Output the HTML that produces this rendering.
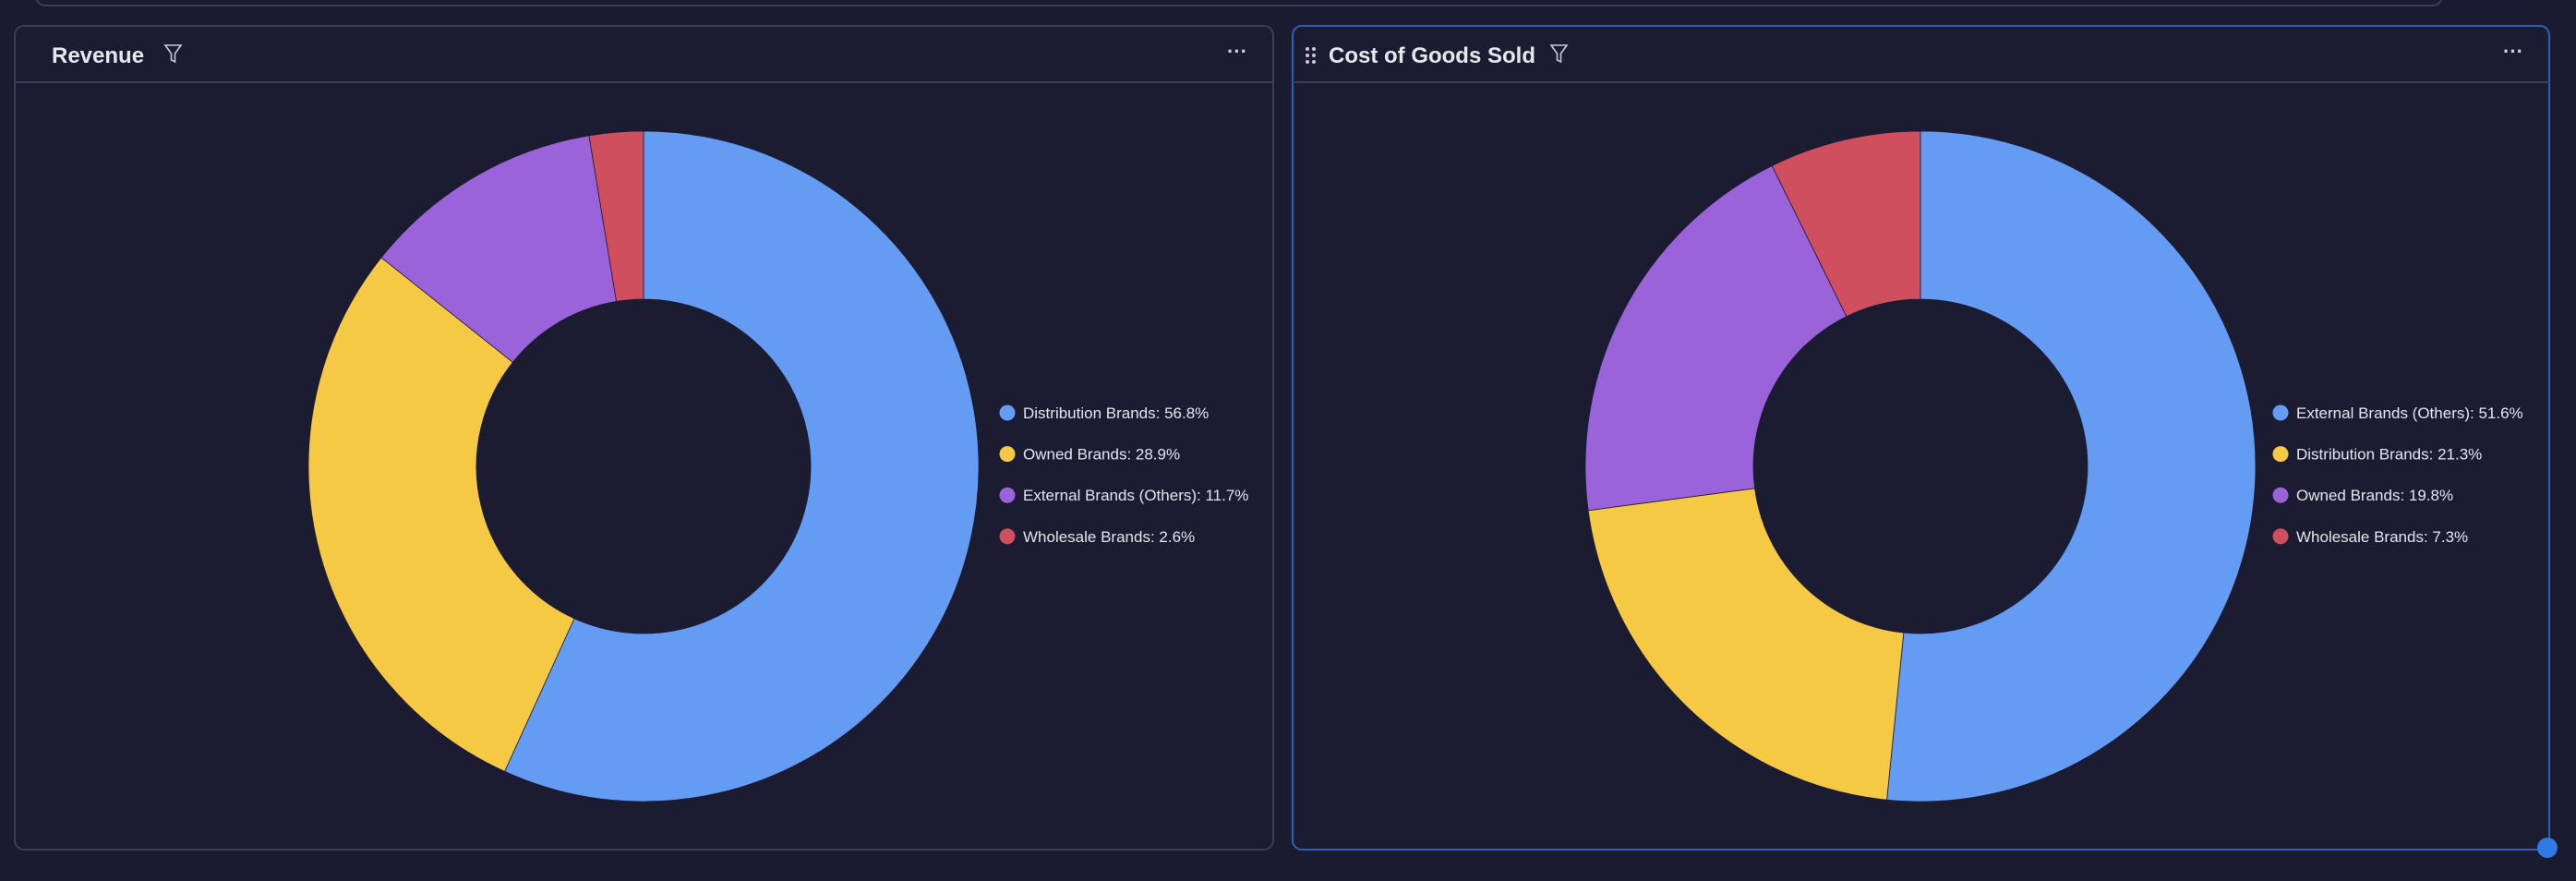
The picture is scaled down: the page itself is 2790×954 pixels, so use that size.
<!DOCTYPE html>
<html><head><meta charset="utf-8"><style>
html,body{margin:0;padding:0;background:#1a1b31;width:2790px;height:954px;overflow:hidden;font-family:"Liberation Sans",sans-serif}
</style></head><body>
<svg id="s" width="2790" height="954" xmlns="http://www.w3.org/2000/svg" style="position:absolute;left:0;top:0">
<rect width="2790" height="954" fill="#1a1b31"/>
<rect x="39" y="-30" width="2606" height="36" rx="10" fill="none" stroke="#3a3d5a" stroke-width="2"/>
<rect x="16" y="28" width="1363" height="892" rx="10" fill="#1b1c32" stroke="#3a3d5a" stroke-width="2"/>
<line x1="16" y1="89" x2="1379" y2="89" stroke="#3a3d5a" stroke-width="2"/>
<text x="56" y="68" fill="#e6e7ee" font-size="24" font-weight="bold">Revenue</text>
<path d="M179 49 h17 l-6.5 9 v9 l-4 -2 v-7 z" fill="none" stroke="#c8c9d4" stroke-width="1.6"/>
<text x="1329" y="63" fill="#d0d1da" font-size="22" font-weight="bold">···</text>
<rect x="1400" y="28" width="1361" height="892" rx="10" fill="#1b1c32" stroke="#2d5fb8" stroke-width="2"/>
<line x1="1400" y1="89" x2="2761" y2="89" stroke="#3a3d5a" stroke-width="2"/>
<g fill="#c8c9d4"><circle cx="1416" cy="53" r="2"/><circle cx="1423" cy="53" r="2"/><circle cx="1416" cy="60" r="2"/><circle cx="1423" cy="60" r="2"/><circle cx="1416" cy="67" r="2"/><circle cx="1423" cy="67" r="2"/></g>
<text x="1439" y="68" fill="#e6e7ee" font-size="24" font-weight="bold">Cost of Goods Sold</text>
<path d="M1680 49 h17 l-6.5 9 v9 l-4 -2 v-7 z" fill="none" stroke="#c8c9d4" stroke-width="1.6"/>
<text x="2711" y="63" fill="#d0d1da" font-size="22" font-weight="bold">···</text>
<circle cx="2759" cy="918" r="11" fill="#2f7ae5"/>
<g id="g"></g>
</svg>
<script>
var C=["#659cf3","#f6c945","#9b63d9","#cf4f5e"];
function donut(cx,cy,R,r,vals){var out="",a=0;
for(var i=0;i<vals.length;i++){var a0=a,a1=a+vals[i]/100*2*Math.PI;a=a1;
var L=(a1-a0)>Math.PI?1:0;
function p(rad,an){return (cx+rad*Math.sin(an)).toFixed(2)+" "+(cy-rad*Math.cos(an)).toFixed(2);}
out+='<path d="M'+p(R,a0)+' A'+R+' '+R+' 0 '+L+' 1 '+p(R,a1)+' L'+p(r,a1)+' A'+r+' '+r+' 0 '+L+' 0 '+p(r,a0)+' Z" fill="'+C[i]+'" stroke="#1b1c32" stroke-width="0.8"/>';}
return out;}
function legend(x,y,labels){var o="";for(var i=0;i<labels.length;i++){var yy=y+i*44.6;
o+='<circle cx="'+x+'" cy="'+yy+'" r="8.5" fill="'+C[i]+'"/><text x="'+(x+17)+'" y="'+(yy+6)+'" fill="#e4e5ec" font-size="17">'+labels[i]+'</text>';}return o;}
var h=donut(697,505,363,181,[56.8,28.9,11.7,2.6])+donut(2080,505,363,181,[51.6,21.3,19.8,7.3]);
h+=legend(1091,447,["Distribution Brands: 56.8%","Owned Brands: 28.9%","External Brands (Others): 11.7%","Wholesale Brands: 2.6%"]);
h+=legend(2470,447,["External Brands (Others): 51.6%","Distribution Brands: 21.3%","Owned Brands: 19.8%","Wholesale Brands: 7.3%"]);
document.getElementById("g").innerHTML=h;
</script>
</body></html>
